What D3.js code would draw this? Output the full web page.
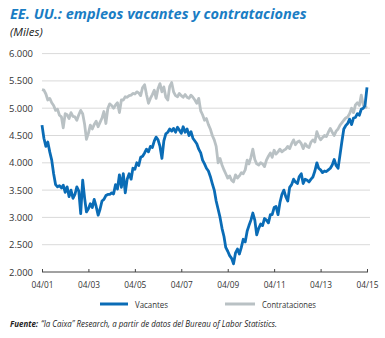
<!DOCTYPE html>
<html><head><meta charset="utf-8">
<script src="https://cdn.jsdelivr.net/npm/d3@7"></script>
<style>
html,body{margin:0;padding:0;background:#fff;}
svg{display:block;}
text{font-family:"Open Sans",sans-serif;}
</style></head>
<body>
<svg id="c" width="385" height="338"></svg>
<script>
// ---- data (thousands), monthly from 04/2001 to 04/2015 ----
const startMonth = "2001-04";
const vacantes = [
4690,4450,4300,4380,4200,4050,3800,3600,3560,3580,3540,3590,
3460,3560,3380,3500,3350,3420,3560,3480,3070,3680,3350,3100,
3160,3250,3180,3330,3200,3040,3150,3300,3330,3400,3420,3420,
3450,3430,3600,3520,3780,3550,3800,3450,3700,3800,3700,3900,
3880,4000,3950,4100,4120,4180,4250,4200,4300,4280,4400,4470,
4420,4300,4080,4400,4530,4560,4620,4580,4630,4560,4650,4600,
4540,4660,4560,4620,4500,4570,4450,4400,4350,4250,4180,4050,
3980,3900,3850,3750,3620,3500,3300,3150,3000,2800,2650,2450,
2380,2300,2250,2150,2350,2420,2330,2450,2600,2550,2750,2850,
2950,3080,2950,2680,2800,2880,2850,2980,2950,2900,3050,3050,
3180,3200,3050,3270,3420,3500,3380,3300,3550,3600,3700,3650,
3620,3750,3800,3620,3700,3680,3650,3700,3740,3850,4000,3900,
3870,3820,3850,3840,3870,3900,3960,4060,3950,3900,4150,4380,
4620,4680,4720,4800,4700,4820,4830,4900,4870,4980,5000,5050,
5380];
const contrataciones = [
5340,5330,5260,5150,5180,5100,5050,4960,4980,4870,4840,4640,
4900,4880,4810,4920,4850,4840,4780,4880,4960,4900,4700,4430,
4540,4690,4620,4700,4760,4660,4740,4820,4940,4720,5000,5080,
5050,5000,5060,5100,4920,5150,5150,5210,5200,5230,5240,5270,
5260,5300,5280,5230,5380,5430,5250,5090,5180,5250,5330,5180,
5360,5450,5300,5390,5200,5150,5400,5470,5300,5230,5210,5270,
5230,5200,5250,5200,5180,5240,5200,5150,5090,5180,4950,4880,
4780,4810,4700,4620,4500,4420,4300,4000,4080,3960,3870,3800,
3720,3760,3680,3650,3780,3720,3760,3820,3800,3870,4050,3980,
4100,4250,4060,3980,3960,4000,3980,3930,4050,4120,4180,4100,
4230,4160,4200,4250,4200,4230,4250,4300,4260,4350,4420,4330,
4380,4400,4350,4260,4350,4300,4280,4380,4420,4380,4570,4480,
4420,4460,4500,4480,4560,4630,4560,4500,4580,4620,4690,4730,
4780,4820,4840,4900,5000,4920,5060,5100,5050,5240,5060,5030,
5000];
const yTicks = [2000,2500,3000,3500,4000,4500,5000,5500,6000];
const xTickLabels = ["04/01","04/03","04/05","04/07","04/09","04/11","04/13","04/15"];
const seriesNames = ["Vacantes","Contrataciones"];
const title = "EE. UU.: empleos vacantes y contrataciones";
const subtitle = "(Miles)";
const sourceBold = "Fuente:";
const sourceText = "\u201Cla Caixa\u201D Research, a partir de datos del Bureau of Labor Statistics.";

// ---- drawing ----
const svg = d3.select("#c");
const blue = "#0a6cb6", grey = "#b9c1c4";
const parseM = d3.timeParse("%Y-%m");
const parseTick = d3.timeParse("%m/%y");
const t0 = parseM(startMonth);
const dates = vacantes.map((_, i) => d3.timeMonth.offset(t0, i));

const x = d3.scaleTime().domain([t0, dates[dates.length-1]]).range([42, 367]);
const y = d3.scaleLinear().domain([2000, 6000]).range([272, 53.6]);

function fitText(sel, w){ const l = sel.node().getComputedTextLength(); const fs = parseFloat(sel.attr("font-size")); sel.attr("font-size", fs*w/l); }
function squeeze(sel, w){ sel.each(function(){ const l = this.getComputedTextLength(); if (l > w) d3.select(this).attr("textLength", w).attr("lengthAdjust","spacingAndGlyphs"); }); }

// title
const tt = svg.append("text").attr("x",10).attr("y",19).attr("font-size",15)
  .attr("font-weight","bold").attr("font-style","italic").attr("fill","#1a7dc4").text(title);
fitText(tt, 297);
const sub = svg.append("text").attr("x",10).attr("y",36).attr("font-size",11.5)
  .attr("font-style","italic").attr("fill","#222").text(subtitle);
squeeze(sub, 34);

// grid
const fmt = d3.format(",");
const fmtES = v => fmt(v).replace(/,/g, ".");
svg.append("g").selectAll("line").data(yTicks.slice(1)).join("line")
  .attr("x1",42).attr("x2",370).attr("y1",d=>y(d)).attr("y2",d=>y(d))
  .attr("stroke","#cfcfcf").attr("stroke-width",0.8);

// y labels
const ya = svg.append("g").attr("transform","translate(42,0)")
  .call(d3.axisLeft(y).tickValues(yTicks).tickFormat(fmtES).tickSize(0).tickPadding(9));
ya.select(".domain").remove();
ya.selectAll("text").attr("font-family","Open Sans").attr("font-size",9.5).attr("fill","#333");
squeeze(ya.selectAll("text"), 24);

// lines
const line = d3.line().x((d,i)=>x(dates[i])).y(d=>y(d));
svg.append("path").datum(contrataciones).attr("d",line).attr("fill","none")
  .attr("stroke",grey).attr("stroke-width",2.8).attr("stroke-linejoin","round");
svg.append("path").datum(vacantes).attr("d",line).attr("fill","none")
  .attr("stroke",blue).attr("stroke-width",2.8).attr("stroke-linejoin","round");

// x axis
const xa = svg.append("g").attr("transform","translate(0,272)")
  .call(d3.axisBottom(x).tickValues(xTickLabels.map(parseTick)).tickFormat(d3.timeFormat("%m/%y")).tickSize(-3).tickPadding(9));
xa.select(".domain").attr("stroke","#444").attr("d","M42,0H368");
xa.selectAll(".tick line").attr("stroke","#444");
xa.selectAll("text").attr("font-family","Open Sans").attr("font-size",9.5).attr("fill","#333");
squeeze(xa.selectAll("text"), 22);

// legend
const lg = svg.append("g");
lg.append("line").attr("x1",100).attr("x2",128).attr("y1",304).attr("y2",304).attr("stroke",blue).attr("stroke-width",3);
const l1 = lg.append("text").attr("x",135).attr("y",307.5).attr("font-size",9.5).attr("fill","#333").text(seriesNames[0]);
squeeze(l1, 33);
lg.append("line").attr("x1",225).attr("x2",255).attr("y1",304).attr("y2",304).attr("stroke",grey).attr("stroke-width",3);
const l2 = lg.append("text").attr("x",262).attr("y",307.5).attr("font-size",9.5).attr("fill","#333").text(seriesNames[1]);
squeeze(l2, 54);

// source: bold label + regular text, squeezed by the same ratio
const sb = svg.append("text").attr("x",10).attr("y",327).attr("font-size",9.5)
  .attr("font-style","italic").attr("font-weight","bold").attr("fill","#222").text(sourceBold);
const sr = svg.append("text").attr("y",327).attr("font-size",9.5)
  .attr("font-style","italic").attr("fill","#222").text(sourceText);
const wb = sb.node().getComputedTextLength(), wr = sr.node().getComputedTextLength();
const gap = 3, ratio = Math.min(1, (267 - gap) / (wb + wr));
sb.attr("textLength", wb*ratio).attr("lengthAdjust","spacingAndGlyphs");
sr.attr("x", 10 + wb*ratio + gap).attr("textLength", wr*ratio).attr("lengthAdjust","spacingAndGlyphs");
</script>
</body></html>
